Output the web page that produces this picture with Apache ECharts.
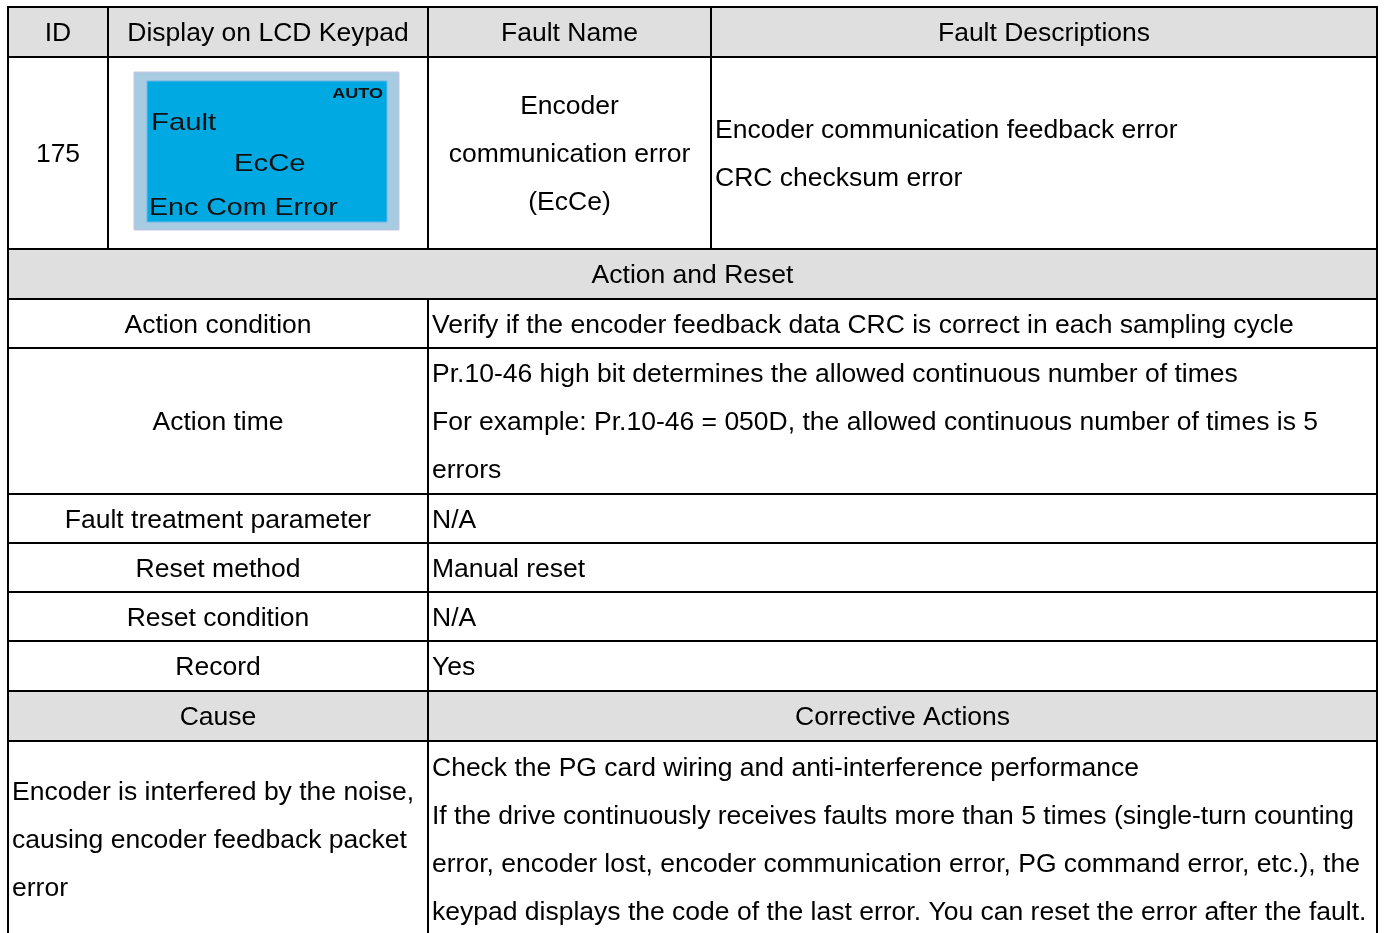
<!DOCTYPE html>
<html>
<head>
<meta charset="utf-8">
<script src="https://cdn.jsdelivr.net/npm/echarts@6/dist/echarts.min.js"></script>
<style>
html,body{margin:0;padding:0;background:#fff;}
#c{width:1384px;height:933px;}
</style>
</head>
<body>
<div id="c"></div>
<script>
// Table structure (column / row boundaries on a pixel-like value scale)
const colEdges = [8, 108, 428, 711, 1377];
const rowEdges = [7, 57, 249, 299, 348, 494, 543, 592, 641, 691, 741, 936];

// cells: [row, rowSpan, col, colSpan, kind, text]  kind: 'h' header, 'c' centered, 'l' left, 'lcd'
const headerCells = [
  [0, 1, 0, 1, 'h', 'ID'],
  [0, 1, 1, 1, 'h', 'Display on LCD Keypad'],
  [0, 1, 2, 1, 'h', 'Fault Name'],
  [0, 1, 3, 1, 'h', 'Fault Descriptions'],
  [2, 1, 0, 4, 'h', 'Action and Reset'],
  [9, 1, 0, 2, 'h', 'Cause'],
  [9, 1, 2, 2, 'h', 'Corrective Actions']
];
const bodyCells = [
  [1, 1, 0, 1, 'c', '175'],
  [1, 1, 1, 1, 'lcd', ''],
  [1, 1, 2, 1, 'c', 'Encoder\ncommunication error\n(EcCe)'],
  [1, 1, 3, 1, 'l', 'Encoder communication feedback error\nCRC checksum error'],
  [3, 1, 0, 2, 'c', 'Action condition'],
  [3, 1, 2, 2, 'l', 'Verify if the encoder feedback data CRC is correct in each sampling cycle'],
  [4, 1, 0, 2, 'c', 'Action time'],
  [4, 1, 2, 2, 'l', 'Pr.10-46 high bit determines the allowed continuous number of times\nFor example: Pr.10-46 = 050D, the allowed continuous number of times is 5\nerrors'],
  [5, 1, 0, 2, 'c', 'Fault treatment parameter'],
  [5, 1, 2, 2, 'l', 'N/A'],
  [6, 1, 0, 2, 'c', 'Reset method'],
  [6, 1, 2, 2, 'l', 'Manual reset'],
  [7, 1, 0, 2, 'c', 'Reset condition'],
  [7, 1, 2, 2, 'l', 'N/A'],
  [8, 1, 0, 2, 'c', 'Record'],
  [8, 1, 2, 2, 'l', 'Yes'],
  [10, 1, 0, 2, 'l', 'Encoder is interfered by the noise,\ncausing encoder feedback packet\nerror'],
  [10, 1, 2, 2, 'l', 'Check the PG card wiring and anti-interference performance\nIf the drive continuously receives faults more than 5 times (single-turn counting\nerror, encoder lost, encoder communication error, PG command error, etc.), the\nkeypad displays the code of the last error. You can reset the error after the fault.']
];
// LCD keypad screen lines
const lcdLines = ['AUTO', 'Fault', 'EcCe', 'Enc Com Error'];

const cells = headerCells.concat(bodyCells);
const FONT = '"Liberation Sans", Arial, sans-serif';

function renderItem(params, api) {
  const cell = cells[api.value(0)];
  const [r, rs, c, cs, kind, text] = cell;
  const p0 = api.coord([colEdges[c], rowEdges[r]]);
  const p1 = api.coord([colEdges[c + cs], rowEdges[r + rs]]);
  const x0 = p0[0], y0 = p0[1], x1 = p1[0], y1 = p1[1];
  const cx = (x0 + x1) / 2, cy = (y0 + y1) / 2;
  const children = [{
    type: 'rect',
    shape: {x: x0, y: y0, width: x1 - x0, height: y1 - y0},
    style: {fill: kind === 'h' ? '#dfdfdf' : '#ffffff', stroke: '#000', lineWidth: 2},
    z2: 0
  }];
  if (kind === 'lcd') {
    children.push({
      type: 'rect', shape: {x: cx - 134, y: cy - 81, width: 265, height: 158},
      style: {fill: '#a7cbe0', stroke: '#c9c3e3', lineWidth: 1}, z2: 1
    });
    children.push({
      type: 'rect', shape: {x: cx - 121, y: cy - 72, width: 240, height: 141},
      style: {fill: '#00a9e1', stroke: '#6fb6e8', lineWidth: 1}, z2: 2
    });
    const lcdSpecs = [
      {x: cx + 115, y: cy - 59, align: 'right', font: 'bold 15px ' + FONT, sx: 1.2},
      {x: cx - 117, y: cy - 30, align: 'left', font: '24px ' + FONT, sx: 1.22},
      {x: cx - 34, y: cy + 11, align: 'left', font: '24px ' + FONT, sx: 1.22},
      {x: cx - 119, y: cy + 55, align: 'left', font: '24px ' + FONT, sx: 1.19}
    ];
    lcdLines.forEach((t, i) => {
      const s = lcdSpecs[i];
      children.push({
        type: 'text', x: s.x, y: s.y, scaleX: s.sx, scaleY: 1, originX: 0, originY: 0,
        style: {text: t, x: 0, y: 0, align: s.align, verticalAlign: 'middle', font: s.font, fill: '#111'},
        z2: 3
      });
    });
  } else {
    const left = kind === 'l';
    children.push({
      type: 'text',
      style: {
        text: text,
        x: left ? x0 + 4 : cx,
        y: cy + 2,
        align: left ? 'left' : 'center',
        verticalAlign: 'middle',
        font: '26.5px ' + FONT,
        lineHeight: 48,
        fill: '#000'
      },
      z2: 4
    });
  }
  return {type: 'group', children: children};
}

const chart = echarts.init(document.getElementById('c'), null, {renderer: 'canvas'});
chart.setOption({
  animation: false,
  backgroundColor: '#ffffff',
  grid: {left: 0, right: 0, top: 0, bottom: 0},
  xAxis: {type: 'value', min: 0, max: 1384, show: false},
  yAxis: {type: 'value', min: 0, max: 933, inverse: true, show: false},
  series: [{
    type: 'custom',
    clip: false,
    renderItem: renderItem,
    encode: {x: 0, y: 0},
    data: cells.map((c, i) => [i])
  }]
});
</script>
</body>
</html>
